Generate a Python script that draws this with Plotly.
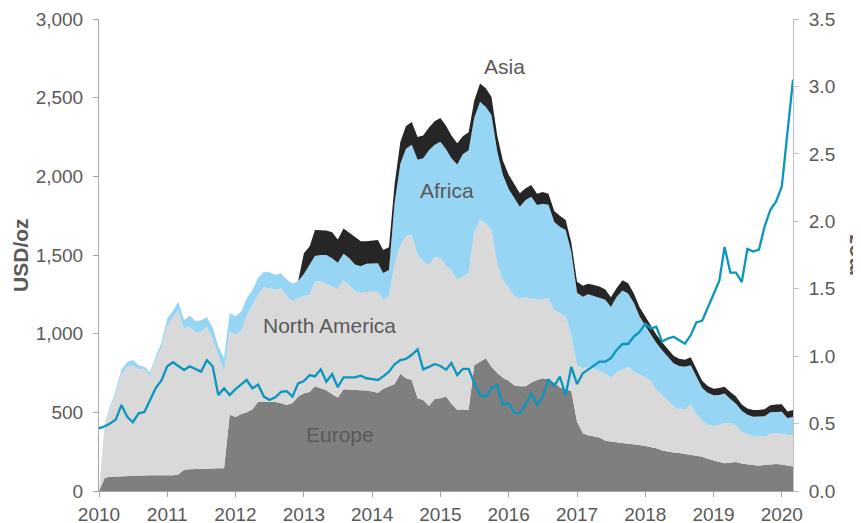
import pandas as pd
import plotly.graph_objects as go

# Monthly observations, Jan 2010 .. Mar 2020
months = pd.date_range("2010-01-01", periods=123, freq="MS")

europe = [0, 85, 90, 92, 95, 95, 97, 100, 100, 100, 100, 100,
          100, 100, 105, 135, 138, 140, 142, 145, 145, 145, 145, 485,
          470, 490, 500, 520, 568, 568, 568, 565, 557, 547, 560, 600,
          621, 630, 665, 652, 640, 615, 595, 646, 645, 642, 640, 638,
          632, 625, 650, 663, 680, 745, 716, 705, 590, 578, 540, 584,
          589, 600, 555, 515, 515, 515, 800, 822, 843, 790, 750, 720,
          700, 670, 665, 665, 690, 705, 716, 710, 690, 660, 645, 635,
          440, 367, 355, 345, 340, 320, 313, 310, 305, 302, 298, 292,
          286, 280, 271, 258, 250, 245, 242, 236, 230, 225, 218, 205,
          197, 185, 176, 182, 185, 175, 170, 163, 161, 165, 170, 172,
          168, 160, 155]

north_america = [0, 335, 430, 528, 645, 695, 703, 675, 670, 635, 740, 810,
                 950, 1000, 1045, 895, 907, 870, 870, 900, 825, 715, 615, 528,
                 525, 530, 619, 660, 682, 727, 720, 715, 731, 693, 645, 625,
                 619, 616, 670, 678, 675, 685, 685, 692, 665, 628, 618, 627,
                 635, 642, 565, 577, 760, 815, 904, 925, 915, 882, 896, 905,
                 891, 830, 850, 826, 850, 869, 840, 900, 857, 869, 690, 625,
                 590, 570, 555, 565, 535, 509, 504, 515, 460, 469, 465, 355,
                 360, 413, 435, 430, 425, 425, 409, 445, 470, 488, 462, 448,
                 439, 420, 369, 354, 325, 295, 278, 284, 320, 265, 227, 220,
                 213, 235, 254, 248, 230, 200, 190, 185, 184, 185, 192, 195,
                 194, 196, 201]

africa = [0, 10, 15, 20, 30, 30, 33, 25, 20, 20, 20, 30,
          45, 45, 55, 55, 70, 70, 73, 60, 70, 60, 85, 116,
          115, 120, 106, 98, 105, 99, 102, 95, 95, 105, 113, 110,
          140, 190, 159, 170, 185, 180, 170, 170, 170, 170, 170, 180,
          180, 180, 171, 165, 390, 520, 555, 570, 600, 655, 729, 711,
          740, 740, 710, 734, 775, 781, 730, 752, 740, 731, 720, 665,
          630, 620, 587, 620, 646, 604, 605, 595, 560, 551, 549, 530,
          460, 455, 460, 465, 465, 470, 448, 480, 500, 465, 435, 370,
          325, 290, 300, 283, 280, 272, 275, 270, 250, 235, 210, 200,
          198, 190, 190, 155, 140, 135, 125, 124, 127, 125, 138, 137,
          142, 106, 116]

asia = [0] * 36 + [
        131, 120, 165, 159, 155, 165, 148, 160, 160, 172, 160, 143,
        145, 148, 146, 145, 120, 140, 145, 145, 145, 145, 145, 150,
        150, 150, 145, 135, 115, 115, 110, 116, 120, 116, 100, 90,
        90, 90, 85, 75, 74, 72, 75, 70, 70, 70, 63, 60,
        70, 70, 68, 70, 70, 65, 62, 55, 65, 65, 60, 60,
        60, 60, 55, 50, 50, 48, 45, 45, 50, 55, 45, 43,
        42, 45, 42, 45, 45, 40, 40, 43, 43, 45, 45, 46,
        48, 43, 43]

moz = [0.465, 0.48, 0.50, 0.53, 0.638, 0.55, 0.51, 0.576, 0.585, 0.675, 0.765, 0.82,
       0.925, 0.955, 0.93, 0.897, 0.925, 0.905, 0.885, 0.97, 0.925, 0.712, 0.761, 0.712,
       0.755, 0.79, 0.823, 0.761, 0.79, 0.70, 0.675, 0.695, 0.735, 0.74, 0.70, 0.798,
       0.815, 0.86, 0.85, 0.902, 0.81, 0.867, 0.769, 0.843, 0.84, 0.842, 0.855, 0.836,
       0.83, 0.823, 0.85, 0.885, 0.939, 0.971, 0.979, 1.01, 1.05, 0.902, 0.92, 0.942,
       0.927, 0.90, 0.95, 0.86, 0.905, 0.905, 0.80, 0.712, 0.70, 0.761, 0.786, 0.64,
       0.65, 0.58, 0.576, 0.64, 0.724, 0.638, 0.70, 0.828, 0.778, 0.848, 0.712, 0.92,
       0.793, 0.873, 0.90, 0.93, 0.96, 0.96, 0.985, 1.046, 1.09, 1.09, 1.145, 1.18,
       1.24, 1.205, 1.218, 1.107, 1.13, 1.144, 1.12, 1.092, 1.155, 1.25, 1.262, 1.36,
       1.45, 1.56, 1.81, 1.62, 1.62, 1.55, 1.795, 1.775, 1.79, 1.96, 2.085, 2.145,
       2.256, 2.65, 3.05]

region_names = ["Europe", "North America", "Africa", "Asia"]
region_values = [europe, north_america, africa, asia]
region_colors = ["#7f7f7f", "#d9d9d9", "#97d5f4", "#262626"]

label_pos = {
    "Asia": ("2015-12-10", 2700),
    "Africa": ("2015-02-06", 1913),
    "North America": ("2013-05-17", 1055),
    "Europe": ("2013-07-13", 362),
}

FONT = "Arial, Liberation Sans, sans-serif"
GREY = "#595959"
AXIS = "#a6a6a6"

fig = go.Figure()
for name, vals, col in zip(region_names, region_values, region_colors):
    fig.add_trace(go.Scatter(
        x=months, y=vals, name=name, stackgroup="one", mode="lines",
        line=dict(width=0, color=col), fillcolor=col, hoverinfo="x+y+name",
    ))

fig.add_trace(go.Scatter(
    x=months, y=moz, name="moz", mode="lines", yaxis="y2",
    line=dict(color="#0a96be", width=2.3),
))

annotations = []
for name, (xd, yv) in label_pos.items():
    annotations.append(dict(x=xd, y=yv, xref="x", yref="y", text=name,
                            showarrow=False, xanchor="center", yanchor="middle",
                            font=dict(family=FONT, size=21, color=GREY)))
annotations.append(dict(x=-0.114, y=0.5, xref="paper", yref="paper", text="<b>USD/oz</b>",
                        textangle=-90, showarrow=False, xanchor="center", yanchor="middle",
                        font=dict(family=FONT, size=21, color=GREY)))
annotations.append(dict(x=1.0865, y=0.5, xref="paper", yref="paper", text="<b>moz</b>",
                        textangle=-90, showarrow=False, xanchor="center", yanchor="middle",
                        font=dict(family=FONT, size=21, color=GREY)))

# the page body adds an 8 px offset, so the figure is sized to fit the window
fig.update_layout(
    template="none",
    width=853, height=515,
    margin=dict(l=91, r=68, t=11, b=32),
    plot_bgcolor="white", paper_bgcolor="white",
    showlegend=False,
    font=dict(family=FONT, size=19, color=GREY),
    annotations=annotations,
    xaxis=dict(type="date", range=["2010-01-01", "2020-03-01"], tick0="2010-01-01",
               dtick="M12", tickformat="%Y", ticks="outside", ticklen=5,
               tickcolor=AXIS, showline=True, linecolor=AXIS, linewidth=1,
               showgrid=False, zeroline=False, automargin=False,
               ticklabelstandoff=1,
               tickfont=dict(family=FONT, size=19, color=GREY)),
    yaxis=dict(range=[0, 3000], dtick=500, tick0=0, tickformat=",", ticks="outside",
               ticklen=5, tickcolor=AXIS, showline=True, linecolor=AXIS, linewidth=1,
               showgrid=False, zeroline=False, automargin=False,
               ticklabelstandoff=6,
               tickfont=dict(family=FONT, size=19, color=GREY)),
    yaxis2=dict(range=[0, 3.5], dtick=0.5, tick0=0, tickformat=".1f", overlaying="y",
                side="right", ticks="outside", ticklen=5, tickcolor="#bfbfbf",
                showline=True, linecolor="#bfbfbf", linewidth=1, showgrid=False,
                zeroline=False, automargin=False, ticklabelstandoff=6,
                tickfont=dict(family=FONT, size=19, color=GREY)),
)

fig.write_html("out.html")
